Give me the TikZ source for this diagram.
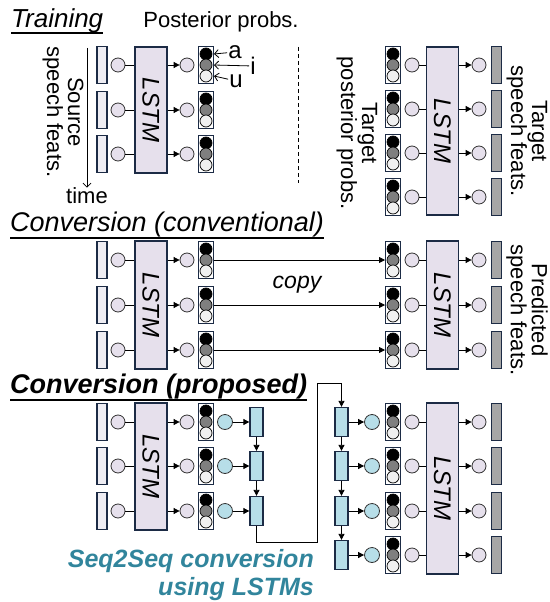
\documentclass[tikz,border=0pt]{standalone}
\usepackage{fontspec}
\setmainfont{Liberation Sans}
\usetikzlibrary{arrows.meta, calc, positioning}
\definecolor{navy}{HTML}{1C2B45}
\definecolor{lav}{HTML}{E6E0EC}
\definecolor{featfill}{HTML}{EEEDF3}
\definecolor{tgtgray}{HTML}{A6A6A6}
\definecolor{lblue}{HTML}{B7DEE8}
\definecolor{s2steal}{HTML}{31859C}
\definecolor{pgray}{HTML}{7F7F7F}
\definecolor{plight}{HTML}{F0F0F0}
\tikzset{
	feat/.style={draw=navy, line width=1.3pt, fill=featfill, minimum width=10pt, minimum height=37pt, inner sep=0pt},
	tfeat/.style={feat, fill=tgtgray},
	unit/.style={circle, draw=black!80, line width=0.8pt, fill=lav, minimum size=14pt, inner sep=0pt},
	bunit/.style={unit, fill=lblue, minimum size=15pt},
	lstmtxt/.style={rotate=-90, inner sep=0pt, font=\fontsize{24}{26}\selectfont\itshape},
	lstm/.style={draw=navy, line width=1.3pt, fill=lav, minimum width=32pt, inner sep=0pt, label={[lstmtxt]center:LSTM}},
	post/.style={draw=navy, line width=1pt, fill=white, minimum width=15pt, minimum height=37pt, inner sep=0pt,
		path picture={
			\foreach \pc/\dy in {black/11pt, pgray/0pt, plight/-11pt}
				\draw[black, line width=0.7pt, fill=\pc] ([yshift=\dy]path picture bounding box.center) circle[radius=6pt];
		}},
	s2s/.style={draw=navy, line width=1.3pt, fill=lblue, minimum width=13pt, minimum height=29pt, inner sep=0pt},
	flow/.style={-{Triangle[length=6pt,width=6pt]}, line width=0.8pt},
	barb/.style={-{Straight Barb[length=4pt,width=8pt]}, line width=0.8pt},
	lbl/.style={font=\fontsize{22}{21}\selectfont, inner sep=0pt},
	ttl/.style={font=\fontsize{27}{28}\selectfont\itshape, inner sep=0pt, anchor=base west},
	uline/.style={line width=1.6pt}
}

\begin{document}
\begin{tikzpicture}[x=1pt, y=-1pt]
	\useasboundingbox (0,0) rectangle (549,602);

	% training, source side
	\node[ttl, font=\fontsize{26}{28}\selectfont\itshape] (ttrain) at (11,28) {Training};
	\draw[uline] ([yshift=-5pt]ttrain.base west) -- ([yshift=-5pt]ttrain.base east);
	\node[lbl] (lpost) at (221,22) {Posterior probs.};
	\foreach \y [count=\i] in {65,110,154} {
		\node[feat] (tsf\i) at (102,\y) {};
		\node[unit] (tsi\i) at (118,\y) {};
		\node[unit] (tso\i) at (187,\y) {};
		\node[post] (tsp\i) at (206,\y) {};
	}
	\node[lstm, minimum height=126pt] (tsl) at (151,110) {};
	\foreach \i in {1,2,3} {
		\draw[line width=0.8pt] (tsi\i) -- (tsi\i -| tsl.west);
		\draw[flow] (tso\i -| tsl.east) -- (tso\i);
	}
	\node[lbl, font=\fontsize{24}{24}\selectfont, inner sep=1pt] (la) at (235,52) {a};
	\node[lbl, font=\fontsize{24}{24}\selectfont, inner sep=1pt] (li) at (253,66) {i};
	\node[lbl, font=\fontsize{24}{24}\selectfont, inner sep=1pt] (lu) at (236,81) {u};
	\draw[barb] (la) -- ([yshift=11pt]tsp1.east);
	\draw[barb] (li) -- (tsp1.east);
	\draw[barb] (lu) -- ([yshift=-11pt]tsp1.east);
	\node[lbl, rotate=-90, align=center] (lsrc) at (63,112) {Source\\speech feats.};
	\node[lbl] (ltime) at (87,196) {time};
	\coordinate (tstart) at (87,48);
	\draw[barb] (tstart) -- (ltime);
	\draw[dashed, dash pattern=on 4pt off 3pt, line width=0.8pt] (298,47) -- (298,183);

	% training, target side
	\foreach \y [count=\i] in {65,109,153,197} {
		\node[post] (ttp\i) at (393,\y) {};
		\node[unit] (tti\i) at (412,\y) {};
		\node[unit] (tto\i) at (479,\y) {};
		\node[tfeat] (ttf\i) at (496.5,\y) {};
	}
	\node[lstm, minimum height=168pt] (ttl) at (442.5,131) {};
	\foreach \i in {1,...,4} {
		\draw[line width=0.8pt] (tti\i) -- (tti\i -| ttl.west);
		\draw[flow] (tto\i -| ttl.east) -- (tto\i);
	}
	\node[lbl, rotate=-90, align=center] (ltpp) at (357,133) {Target\\posterior probs.};
	\node[lbl, rotate=-90, align=center] (ltsf) at (527,131) {Target\\speech feats.};

	% conventional conversion
	\node[ttl] (tconv) at (10,231) {Conversion (conventional)};
	\draw[uline] ([yshift=-7pt]tconv.base west) -- ([yshift=-7pt]tconv.base east);
	\foreach \y [count=\i] in {260,305,350} {
		\node[feat] (csf\i) at (102,\y) {};
		\node[unit] (csi\i) at (118,\y) {};
		\node[unit] (cso\i) at (187,\y) {};
		\node[post] (csp\i) at (206,\y) {};
		\node[post] (ctp\i) at (393,\y) {};
		\node[unit] (cti\i) at (412,\y) {};
		\node[unit] (cto\i) at (479,\y) {};
		\node[tfeat] (ctf\i) at (496.5,\y) {};
	}
	\node[lstm, minimum height=128pt] (csl) at (151,305) {};
	\node[lstm, minimum height=128pt] (ctl) at (442.5,305) {};
	\foreach \i in {1,2,3} {
		\draw[line width=0.8pt] (csi\i) -- (csi\i -| csl.west);
		\draw[flow] (cso\i -| csl.east) -- (cso\i);
		\draw[flow] (csp\i) -- (ctp\i);
		\draw[line width=0.8pt] (cti\i) -- (cti\i -| ctl.west);
		\draw[flow] (cto\i -| ctl.east) -- (cto\i);
	}
	\node[lbl, font=\fontsize{23}{23}\selectfont\itshape] (lcopy) at (297,285) {copy};
	\node[lbl, rotate=-90, align=center] (lpsf) at (527,310) {Predicted\\speech feats.};

	% proposed conversion
	\node[ttl, font=\fontsize{27}{28}\selectfont\bfseries\itshape] (tprop) at (10,393) {Conversion (proposed)};
	\draw[uline] ([yshift=-7pt]tprop.base west) -- ([yshift=-7pt]tprop.base east);
	\foreach \y [count=\i] in {422,466,511} {
		\node[feat] (psf\i) at (102,\y) {};
		\node[unit] (psi\i) at (118,\y) {};
		\node[unit] (pso\i) at (187,\y) {};
		\node[post] (psp\i) at (206,\y) {};
		\node[bunit] (pbu\i) at (225,\y) {};
		\node[s2s] (pls\i) at (256.5,\y) {};
	}
	\node[lstm, minimum height=127pt] (psl) at (151,466.5) {};
	\foreach \i in {1,2,3} {
		\draw[line width=0.8pt] (psi\i) -- (psi\i -| psl.west);
		\draw[flow] (pso\i -| psl.east) -- (pso\i);
		\draw[flow] (pbu\i) -- (pls\i);
	}
	\draw[flow] (pls1) -- (pls2);
	\draw[flow] (pls2) -- (pls3);
	\foreach \y [count=\i] in {422,466,511,555} {
		\node[s2s] (prs\i) at (341.5,\y) {};
		\node[bunit] (prb\i) at (372,\y) {};
		\node[post] (ptp\i) at (393,\y) {};
		\node[unit] (pti\i) at (412,\y) {};
		\node[unit] (pto\i) at (479,\y) {};
		\node[tfeat] (ptf\i) at (496.5,\y) {};
	}
	\node[lstm, minimum height=171pt] (ptl) at (442.5,488.5) {};
	\foreach \i in {1,...,4} {
		\draw[flow] (prs\i) -- (prb\i);
		\draw[line width=0.8pt] (pti\i) -- (pti\i -| ptl.west);
		\draw[flow] (pto\i -| ptl.east) -- (pto\i);
	}
	\draw[flow] (prs1) -- (prs2);
	\draw[flow] (prs2) -- (prs3);
	\draw[flow] (prs3) -- (prs4);
	\coordinate (bendlo) at (317,542);
	\coordinate (bendhi) at (317,383);
	\draw[flow] (pls3.south) |- (bendlo) -- (bendhi) -| (prs1.north);
	\node[font=\fontsize{25}{28}\selectfont\bfseries\itshape, text=s2steal, align=right, anchor=north east, inner sep=0pt] (ls2s) at (314,549) {Seq2Seq conversion\\using LSTMs};
\end{tikzpicture}
\end{document}
